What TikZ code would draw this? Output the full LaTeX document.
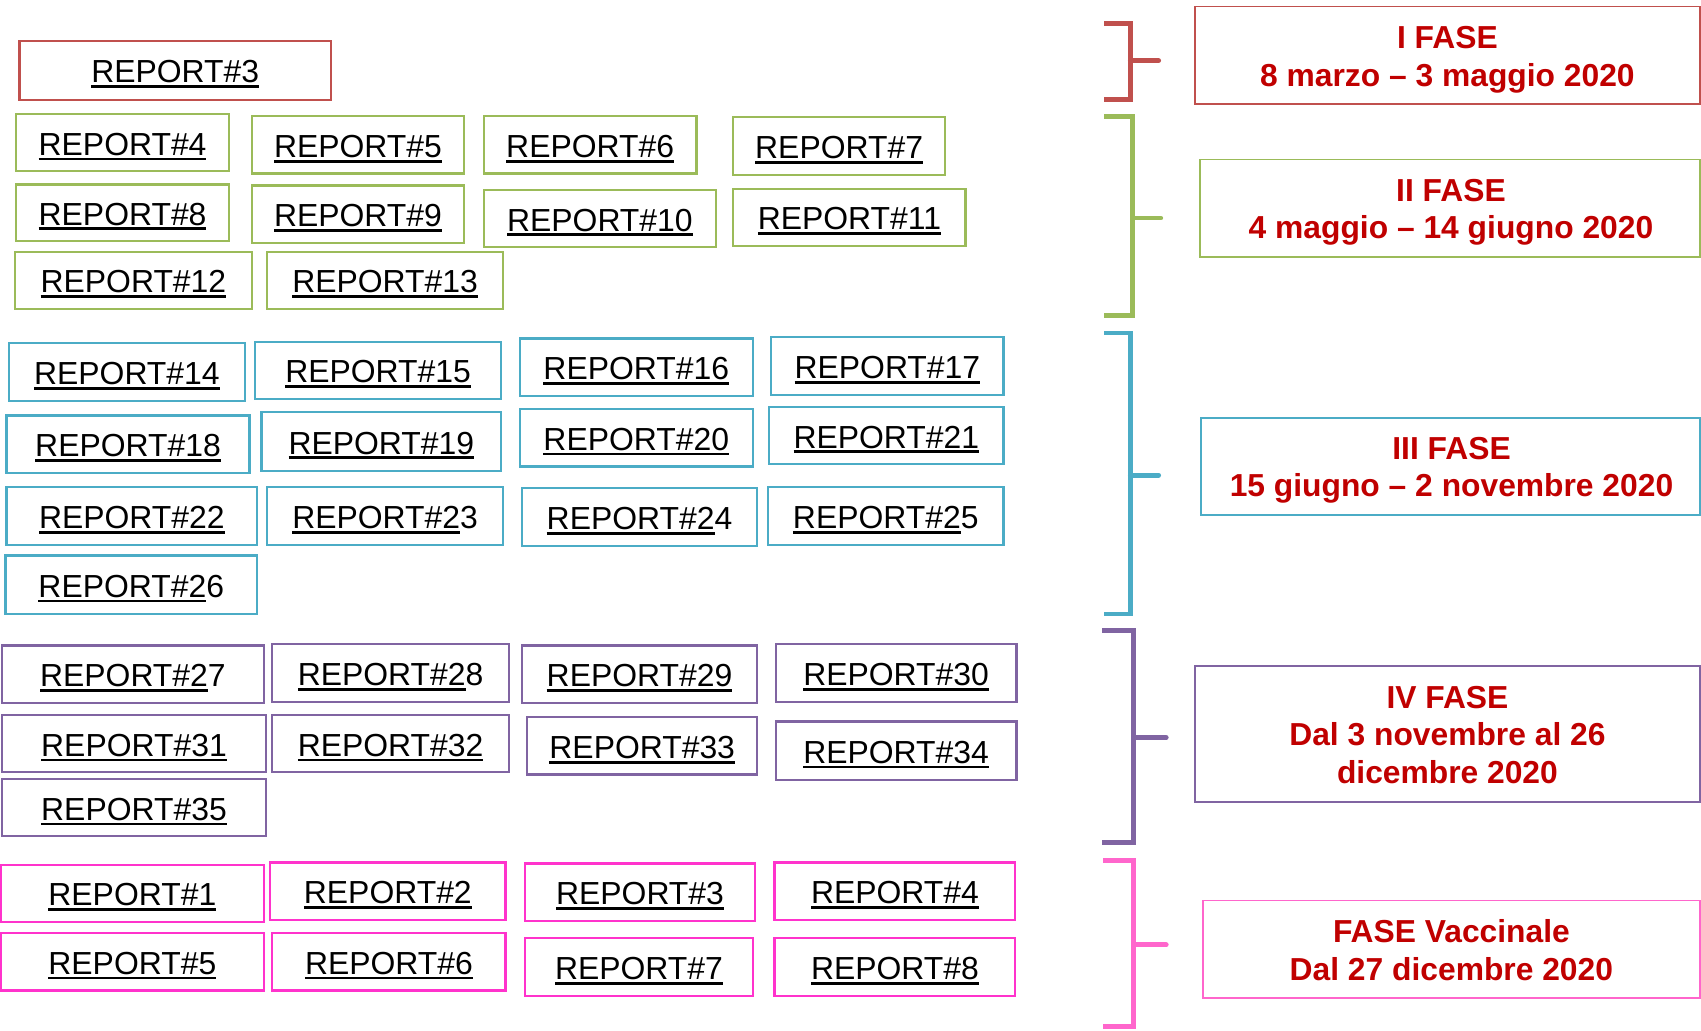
\documentclass[tikz,border=0pt]{standalone}
\usepackage{fontspec}
\setmainfont{Liberation Sans}
\definecolor{cred}{HTML}{C0504D}
\definecolor{cgreen}{HTML}{9BBB59}
\definecolor{ccyan}{HTML}{4BACC6}
\definecolor{cpurple}{HTML}{8064A2}
\definecolor{cpink}{HTML}{FF33CC}
\definecolor{cpinkl}{HTML}{FF66CC}
\definecolor{ctext}{HTML}{C00000}
\newsavebox\repbx
\newcommand\repul[2]{\sbox\repbx{#1}\rlap{\rule[-4.8pt]{\wd\repbx}{2.6pt}}\usebox\repbx#2}
\newcommand\repbox[7]{\node[repb, draw=#2, minimum width={#5-#3}, minimum height={#6-#4}] (#1) at ({(#3+#5)/2},{(#4+#6)/2}) {#7};}
\begin{document}
\begin{tikzpicture}[x=1pt,y=-1pt,
  repb/.style={line width=2pt, inner sep=0pt, text height=28pt, text depth=5pt, font=\fontsize{29.4}{34}\selectfont},
  phase/.style={line width=1.6pt, inner sep=0pt},
  ptext/.style={inner sep=0pt, align=center, text=ctext, font=\fontsize{29.3}{34.5}\selectfont\bfseries},
  brk/.style={line width=4.5pt, line join=miter},
  tick/.style={line width=4.5pt, line cap=round}]
\useasboundingbox (0,0) rectangle (1568,950);
% I FASE
\repbox{a3}{cred}{18}{38}{305}{92}{\repul{REPORT\#3}{}}
% II FASE
\repbox{b4}{cgreen}{15}{105}{211}{158}{\repul{REPORT\#4}{}}
\repbox{b5}{cgreen}{232}{107}{428}{160}{\repul{REPORT\#5}{}}
\repbox{b6}{cgreen}{446}{107}{642}{160}{\repul{REPORT\#6}{}}
\repbox{b7}{cgreen}{676}{108}{871}{161}{\repul{REPORT\#7}{}}
\repbox{b8}{cgreen}{15}{170}{211}{222}{\repul{REPORT\#8}{}}
\repbox{b9}{cgreen}{232}{171}{428}{224}{\repul{REPORT\#9}{}}
\repbox{b10}{cgreen}{446}{175}{660}{228}{\repul{REPORT\#10}{}}
\repbox{b11}{cgreen}{676}{174}{890}{227}{\repul{REPORT\#11}{}}
\repbox{b12}{cgreen}{14}{232}{232}{285}{\repul{REPORT\#12}{}}
\repbox{b13}{cgreen}{246}{232}{464}{285}{\repul{REPORT\#13}{}}
% III FASE
\repbox{c14}{ccyan}{8}{316}{226}{370}{\repul{REPORT\#14}{}}
\repbox{c15}{ccyan}{235}{315}{462}{368}{\repul{REPORT\#15}{}}
\repbox{c16}{ccyan}{479}{312}{694}{365}{\repul{REPORT\#16}{}}
\repbox{c17}{ccyan}{711}{311}{925}{364}{\repul{REPORT\#17}{}}
\repbox{c18}{ccyan}{6}{383}{230}{436}{\repul{REPORT\#18}{}}
\repbox{c19}{ccyan}{241}{380}{462}{434}{\repul{REPORT\#19}{}}
\repbox{c20}{ccyan}{479}{377}{694}{430}{\repul{REPORT\#20}{}}
\repbox{c21}{ccyan}{709}{375}{925}{428}{\repul{REPORT\#21}{}}
\repbox{c22}{ccyan}{6}{449}{237}{502}{\repul{REPORT\#22}{}}
\repbox{c23}{ccyan}{246}{449}{464}{502}{\repul{REPORT\#2}{3}}
\repbox{c24}{ccyan}{481}{450}{698}{503}{\repul{REPORT\#2}{4}}
\repbox{c25}{ccyan}{708}{449}{925}{502}{\repul{REPORT\#2}{5}}
\repbox{c26}{ccyan}{5}{512}{237}{566}{\repul{REPORT\#2}{6}}
% IV FASE
\repbox{d27}{cpurple}{2}{595}{243}{648}{\repul{REPORT\#2}{7}}
\repbox{d28}{cpurple}{251}{594}{469}{647}{\repul{REPORT\#2}{8}}
\repbox{d29}{cpurple}{481}{595}{698}{648}{\repul{REPORT\#29}{}}
\repbox{d30}{cpurple}{715}{594}{937}{647}{\repul{REPORT\#30}{}}
\repbox{d31}{cpurple}{2}{659}{245}{712}{\repul{REPORT\#31}{}}
\repbox{d32}{cpurple}{251}{659}{469}{712}{\repul{REPORT\#32}{}}
\repbox{d33}{cpurple}{486}{661}{698}{714}{\repul{REPORT\#33}{}}
\repbox{d34}{cpurple}{715}{665}{937}{719}{\repul{REPORT\#34}{}}
\repbox{d35}{cpurple}{2}{718}{245}{771}{\repul{REPORT\#35}{}}
% FASE Vaccinale
\repbox{e1}{cpink}{1}{797}{243}{850}{\repul{REPORT\#1}{}}
\repbox{e2}{cpink}{249}{795}{466}{848}{\repul{REPORT\#2}{}}
\repbox{e3}{cpink}{484}{796}{696}{849}{\repul{REPORT\#3}{}}
\repbox{e4}{cpink}{714}{795}{936}{848}{\repul{REPORT\#4}{}}
\repbox{e5}{cpink}{1}{860}{243}{913}{\repul{REPORT\#5}{}}
\repbox{e6}{cpink}{251}{860}{466}{913}{\repul{REPORT\#6}{}}
\repbox{e7}{cpink}{484}{865}{694}{918}{\repul{REPORT\#7}{}}
\repbox{e8}{cpink}{714}{865}{936}{918}{\repul{REPORT\#8}{}}
% brackets
\draw[brk, cred] (1018,22) -- (1042,22) -- (1042,92) -- (1018,92);
\draw[tick, cred] (1042,56) -- (1068,56);
\draw[brk, cgreen] (1018,107) -- (1044,107) -- (1044,291) -- (1018,291);
\draw[tick, cgreen] (1044,201) -- (1070,201);
\draw[brk, ccyan] (1018,307) -- (1042,307) -- (1042,566) -- (1018,566);
\draw[tick, ccyan] (1042,438) -- (1068,438);
\draw[brk, cpurple] (1016,581) -- (1045,581) -- (1045,777) -- (1016,777);
\draw[tick, cpurple] (1045,680) -- (1075,680);
\draw[brk, cpinkl] (1017,793) -- (1045,793) -- (1045,946) -- (1017,946);
\draw[tick, cpinkl] (1045,871) -- (1075,871);
% phase boxes
\node[phase, draw=cred, minimum width=465.5, minimum height=90] (p1) at (1334.25,51) {};
\node[phase, draw=cgreen, minimum width=461, minimum height=89.6] (p2) at (1336.5,191.8) {};
\node[phase, draw=ccyan, minimum width=460, minimum height=90] (p3) at (1337,430) {};
\node[phase, draw=cpurple, minimum width=465.5, minimum height=125.5] (p4) at (1334.25,676.75) {};
\node[phase, draw=cpinkl, minimum width=458.2, minimum height=90] (p5) at (1337.9,875) {};
\node[ptext] (t1) at ([yshift=-4pt]p1.center) {I FASE\\8 marzo -- 3 maggio 2020};
\node[ptext] (t2) at ([yshift=-4pt,xshift=1pt]p2.center) {II FASE\\4 maggio -- 14 giugno 2020};
\node[ptext] (t3) at ([yshift=-3.5pt,xshift=1pt]p3.center) {III FASE\\15 giugno -- 2 novembre 2020};
\node[ptext] (t4) at ([yshift=-0.5pt]p4.center) {IV FASE\\Dal 3 novembre al 26\\dicembre 2020};
\node[ptext] (t5) at ([yshift=-1pt]p5.center) {FASE Vaccinale\\Dal 27 dicembre 2020};
\end{tikzpicture}
\end{document}
